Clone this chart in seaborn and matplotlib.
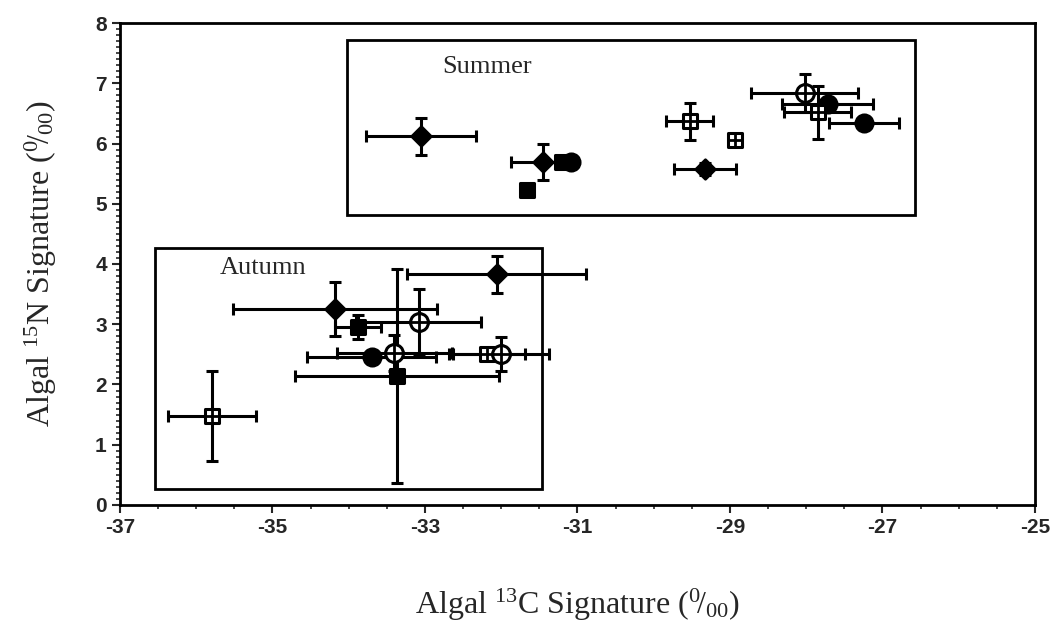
import numpy as np
import pandas as pd
import matplotlib
matplotlib.use("Agg")
import matplotlib.pyplot as plt
import matplotlib.patches as patches
from matplotlib.ticker import MultipleLocator
import seaborn as sns

# ---------------- data ----------------
summer_x = [-33.05, -31.45, -31.20, -31.08, -31.66, -29.53, -28.93, -29.33, -28.02, -27.72, -27.85, -27.24]
summer_y = [6.12, 5.70, 5.70, 5.70, 5.22, 6.37, 6.05, 5.58, 6.84, 6.66, 6.52, 6.34]
summer_xerr = [0.72, 0.42, 0, 0, 0, 0.31, 0, 0.41, 0.70, 0.60, 0.44, 0.46]
summer_yerr = [0.31, 0.30, 0, 0, 0, 0.31, 0, 0.10, 0.32, 0, 0.44, 0]
summer_marker = ["diamond", "diamond", "square", "circle", "square", "osquare",
                 "osquare", "diamond", "ocircle", "circle", "osquare", "circle"]

autumn_x = [-35.79, -34.18, -32.06, -33.88, -33.08, -33.37, -33.70, -33.40, -32.19, -32.00]
autumn_y = [1.48, 3.25, 3.83, 2.95, 3.04, 2.14, 2.45, 2.52, 2.50, 2.50]
autumn_xerr = [0.58, 1.34, 1.17, 0.30, 0.82, 1.34, 0.85, 0.75, 0.50, 0.63]
autumn_yerr = [0.75, 0.45, 0.31, 0.20, 0.55, 1.77, 0, 0.30, 0, 0.28]
autumn_marker = ["osquare", "diamond", "diamond", "square", "ocircle", "square",
                 "circle", "ocircle", "osquare", "ocircle"]

season_labels = ["Summer", "Autumn"]
x_ticks = [-37, -35, -33, -31, -29, -27, -25]
y_ticks = [0, 1, 2, 3, 4, 5, 6, 7, 8]

df = pd.concat([
    pd.DataFrame({"x": summer_x, "y": summer_y, "xerr": summer_xerr,
                  "yerr": summer_yerr, "marker": summer_marker, "season": "Summer"}),
    pd.DataFrame({"x": autumn_x, "y": autumn_y, "xerr": autumn_xerr,
                  "yerr": autumn_yerr, "marker": autumn_marker, "season": "Autumn"}),
], ignore_index=True)

# ---------------- style ----------------
sns.set_theme(style="ticks")
plt.rcParams["font.family"] = ["Liberation Serif", "DejaVu Serif"]
plt.rcParams["mathtext.fontset"] = "custom"
plt.rcParams["mathtext.rm"] = "Liberation Serif"
plt.rcParams["mathtext.it"] = "Liberation Serif:italic"
plt.rcParams["axes.unicode_minus"] = False

fig = plt.figure(figsize=(10.6, 6.34), dpi=100)
ax = fig.add_axes([0.1132, 0.2035, 0.8632, 0.7602])

# error bars
for _, r in df.iterrows():
    xe = r["xerr"] if r["xerr"] > 0 else None
    ye = r["yerr"] if r["yerr"] > 0 else None
    if xe is None and ye is None:
        continue
    ax.errorbar(r["x"], r["y"], xerr=xe, yerr=ye, fmt="none", ecolor="black",
                elinewidth=2.2, capsize=4, capthick=2.2, zorder=2)

# markers via seaborn
style_map = {
    "diamond": dict(marker="D", s=95, color="black", edgecolor="black"),
    "square": dict(marker="s", s=90, color="black", edgecolor="black"),
    "circle": dict(marker="o", s=150, color="black", edgecolor="black"),
    "osquare": dict(marker="s", s=115, color="white", edgecolor="black"),
    "ocircle": dict(marker="o", s=165, color="white", edgecolor="black"),
}
for mk, kw in style_map.items():
    sub = df[df["marker"] == mk]
    if sub.empty:
        continue
    sns.scatterplot(data=sub, x="x", y="y", ax=ax, marker=kw["marker"], s=kw["s"],
                    color=kw["color"], edgecolor=kw["edgecolor"], linewidth=2.2,
                    zorder=3, legend=False)
    if mk in ("osquare", "ocircle"):
        sns.scatterplot(data=sub, x="x", y="y", ax=ax, marker="+",
                        s=kw["s"] * 0.9, color="black", linewidth=2.0,
                        zorder=4, legend=False)

# season boxes
ax.add_patch(patches.Rectangle((-34.02, 4.81), 7.45, 2.90, fill=False,
                               edgecolor="black", linewidth=2.0, zorder=1))
ax.add_patch(patches.Rectangle((-36.54, 0.27), 5.07, 3.99, fill=False,
                               edgecolor="black", linewidth=2.0, zorder=1))
ax.text(-32.18, 7.27, season_labels[0], fontsize=19, ha="center", va="center")
ax.text(-35.13, 3.93, season_labels[1], fontsize=19, ha="center", va="center")

# axes
ax.set_xlim(-37, -25)
ax.set_ylim(0, 8)
ax.set_xticks(x_ticks)
ax.set_yticks(y_ticks)
ax.xaxis.set_minor_locator(MultipleLocator(0.5))
ax.yaxis.set_minor_locator(MultipleLocator(0.1))
ax.tick_params(axis="both", which="major", direction="out", length=6, width=1.5,
               labelsize=15)
ax.tick_params(axis="both", which="minor", direction="out", length=3, width=1.2)
for lab in ax.get_xticklabels() + ax.get_yticklabels():
    lab.set_fontfamily("Liberation Sans")
    lab.set_fontweight("bold")
for sp in ax.spines.values():
    sp.set_linewidth(2.0)
    sp.set_color("black")

ax.set_xlabel(r"Algal $^{13}$C Signature ($^{0}\!/_{00}$)", fontsize=23, labelpad=36)
ax.set_ylabel(r"Algal $^{15}$N Signature ($^{0}\!/_{00}$)", fontsize=23, labelpad=26)

fig.savefig("out.png", dpi=100)
